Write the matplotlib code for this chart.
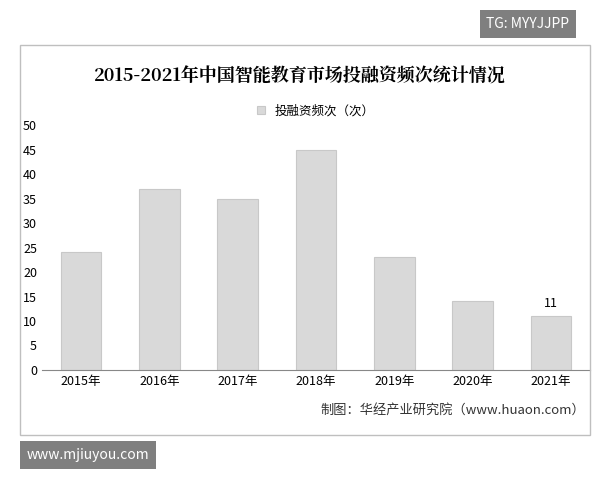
import matplotlib
matplotlib.use("Agg")
import matplotlib.pyplot as plt
from matplotlib.patches import Rectangle

plt.rcParams['font.family'] = ['Noto Sans CJK SC', 'DejaVu Sans']

years = ["2015年", "2016年", "2017年", "2018年", "2019年", "2020年", "2021年"]
values = [24, 37, 35, 45, 23, 14, 11]
series_name = "投融资频次（次）"
title = "2015-2021年中国智能教育市场投融资频次统计情况"
source = "制图：华经产业研究院（www.huaon.com）"

fig = plt.figure(figsize=(6, 4.8), dpi=100)
fig.patch.set_facecolor("white")
fig.add_artist(Rectangle((20/600, 1-435/480), 570/600, 390/480, transform=fig.transFigure,
                         fill=False, edgecolor="#bfbfbf", lw=1))

ax = fig.add_axes([42/600, 1-370/480, 548/600, 245/480])
x = range(len(years))
ax.bar(x, values, width=0.52, color="#d9d9d9", edgecolor="#c8c8c8", lw=0.8, label=series_name)
ax.set_ylim(0, 50)
ax.set_yticks(range(0, 51, 5))
ax.set_xlim(-0.5, len(years) - 0.5)
ax.set_xticks(list(x))
ax.set_xticklabels(years, fontsize=9)
ax.tick_params(axis='y', labelsize=9, length=0)
ax.tick_params(axis='x', length=0)
for s in ["top", "right", "left"]:
    ax.spines[s].set_visible(False)
ax.spines["bottom"].set_color("#888888")
ax.text(x[-1], values[-1] + 1.2, str(values[-1]), ha="center", va="bottom", fontsize=9)
ax.legend(loc="upper center", bbox_to_anchor=(0.5, 1.13), frameon=False, fontsize=9,
          handlelength=0.6, handleheight=0.6)

fig.text(300/600, 1-76/480, title, ha="center", va="center", fontsize=13, fontweight="bold",
         family=['Noto Serif CJK SC', 'Noto Sans CJK SC', 'DejaVu Serif'])
fig.text(585/600, 1-410/480, source, ha="right", va="center", fontsize=9.5, color="#333333")

fig.text(528/600, 1-24/480, "TG: MYYJJPP", ha="center", va="center", fontsize=10, color="white",
         bbox=dict(boxstyle="square,pad=0.5", fc="#7f7f7f", ec="none"))
fig.text(88/600, 1-455/480, "www.mjiuyou.com", ha="center", va="center", fontsize=10, color="white",
         bbox=dict(boxstyle="square,pad=0.5", fc="#7f7f7f", ec="none"))

fig.savefig("out.png", dpi=100)
